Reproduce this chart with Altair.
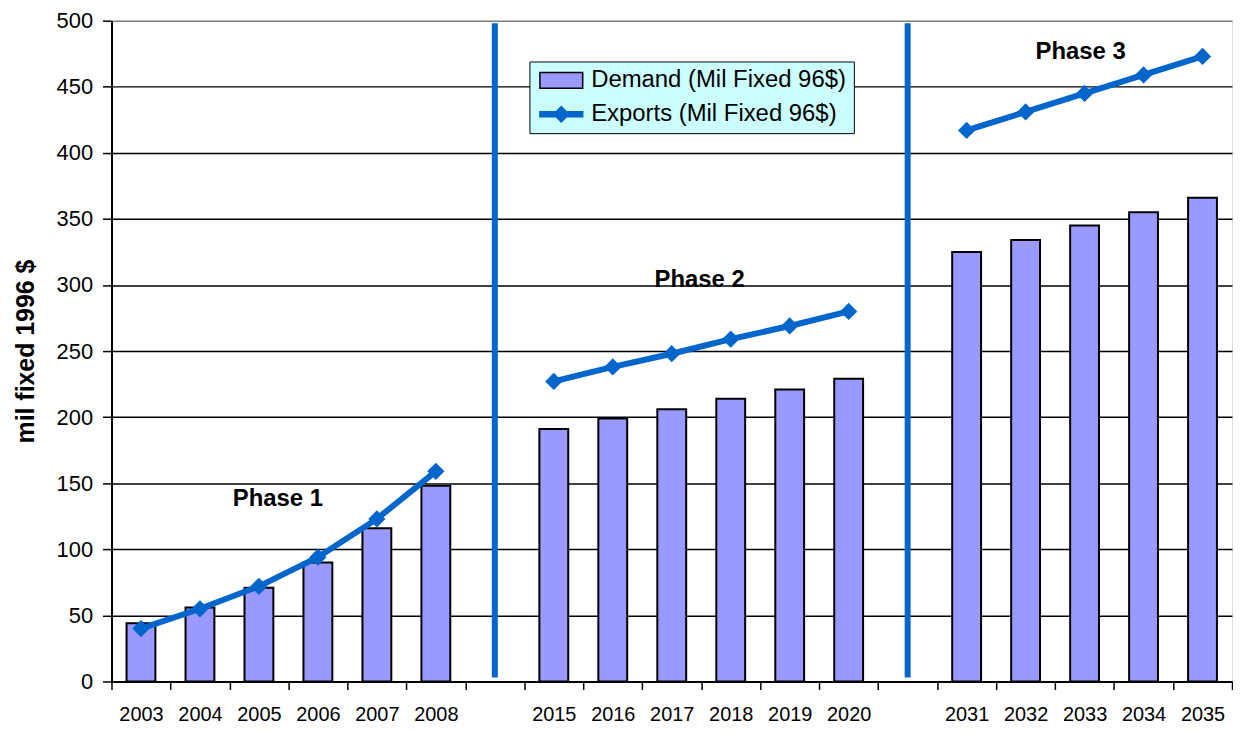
import altair as alt
import pandas as pd

FONT = "Liberation Sans"

# ---- data ----
years_p1 = ["2003", "2004", "2005", "2006", "2007", "2008"]
demand_p1 = [44, 56, 71, 90, 116, 148]
exports_p1 = [40, 55, 72, 94, 123, 159]

years_p2 = ["2015", "2016", "2017", "2018", "2019", "2020"]
demand_p2 = [191, 199, 206, 214, 221, 229]
exports_p2 = [227, 238, 248, 259, 269, 280]

years_p3 = ["2031", "2032", "2033", "2034", "2035"]
demand_p3 = [325, 334, 345, 355, 366]
exports_p3 = [417, 431, 445, 459, 473]

gap_slots = ["gap1", "gap2"]
x_domain = years_p1 + [gap_slots[0]] + years_p2 + [gap_slots[1]] + years_p3

phase_names = ["Phase 1", "Phase 2", "Phase 3"]
phase_label_x = ["2005", "2017", "2033"]
phase_label_y = [138, 304, 476]
phase_label_dx = [19, 28, -4]

sep_top = 498
sep_bottom = 3

series_names = ["Demand (Mil Fixed 96$)", "Exports (Mil Fixed 96$)"]

# ---- tables ----
rows = []
for ph, ys, ds, es in zip(phase_names,
                          [years_p1, years_p2, years_p3],
                          [demand_p1, demand_p2, demand_p3],
                          [exports_p1, exports_p2, exports_p3]):
    for y, d, e in zip(ys, ds, es):
        rows.append({"phase": ph, "year": y, "demand": d, "exports": e})
df = pd.DataFrame(rows)

sep_df = pd.DataFrame({"slot": gap_slots, "top": [sep_top] * 2, "bottom": [sep_bottom] * 2})
legend_df = pd.DataFrame({"series": series_names})

# ---- scales / axes ----
x_scale = alt.Scale(domain=x_domain, paddingInner=0, paddingOuter=0)
x_axis = alt.Axis(
    labelExpr="indexof(datum.label, 'gap') == 0 ? '' : datum.label",
    tickBand="extent", tickSize=8, tickColor="black", tickWidth=1.5,
    domainColor="black", domainWidth=2, labelFontSize=20, labelFont=FONT,
    labelColor="black", labelPadding=15, labelAngle=0, labelOverlap=False,
    grid=False, title=None,
)
y_scale = alt.Scale(domain=[0, 500], nice=False)
y_axis = alt.Axis(
    values=list(range(0, 501, 50)), grid=True,
    gridColor={"condition": {"test": "datum.value === 500", "value": "#808080"}, "value": "black"},
    gridWidth=1.5, domainColor="black", domainWidth=2, tickColor="black",
    tickSize=9, tickWidth=1.5, labelFontSize=22, labelFont=FONT,
    labelColor="black", labelPadding=10, labelOverlap=False,
    title="mil fixed 1996 $", titleFontSize=25, titleFont=FONT,
    titleFontWeight="bold", titleColor="black", titlePadding=18,
)

X = alt.X("year:N", scale=x_scale, axis=x_axis, title=None)

bars = alt.Chart(df).mark_bar(size=29, color="#9999FF", stroke="black", strokeWidth=2).encode(
    x=X,
    y=alt.Y("demand:Q", scale=y_scale, axis=y_axis),
)

lines = alt.Chart(df).mark_line(color="#0066CC", strokeWidth=6).encode(
    x=alt.X("year:N"), y=alt.Y("exports:Q"), detail="phase:N"
)

points = alt.Chart(df).mark_point(shape="diamond", filled=True, size=300, color="#0066CC", opacity=1).encode(
    x=alt.X("year:N"), y=alt.Y("exports:Q")
)

seps = alt.Chart(sep_df).mark_rule(color="#0066CC", strokeWidth=6).encode(
    x=alt.X("slot:N"), y=alt.Y("top:Q"), y2="bottom:Q"
)

texts = []
for name, px, py, dx in zip(phase_names, phase_label_x, phase_label_y, phase_label_dx):
    tdf = pd.DataFrame({"label": [name], "year": [px], "val": [py]})
    texts.append(
        alt.Chart(tdf).mark_text(fontSize=24, fontWeight="bold", font=FONT, color="black", dx=dx).encode(
            x=alt.X("year:N"), y=alt.Y("val:Q"), text="label:N"
        )
    )

rect_path = "M-1,-0.94L4.06,-0.94L4.06,0.94L-1,0.94Z"
line_path = "M-1,-0.3L4.06,-0.3L4.06,0.3L-1,0.3Z M1.53,-0.9L2.43,0L1.53,0.9L0.63,0Z"

leg = alt.Legend(
    title=None, orient="none", legendX=420, legendY=41,
    fillColor="#CCFFFF", strokeColor="black", padding=7, rowPadding=10,
    labelFontSize=24, labelFont=FONT, labelColor="black", labelOffset=31,
    labelLimit=500,
    symbolSize=289, symbolStrokeWidth=1.5, symbolOpacity=1,
)

legend_layer = alt.Chart(legend_df).mark_point(filled=True, opacity=0).encode(
    fill=alt.Fill("series:N", scale=alt.Scale(domain=series_names, range=["#9999FF", "#0066CC"]), legend=leg),
    stroke=alt.Stroke("series:N", scale=alt.Scale(domain=series_names, range=["black", "#0066CC"]), legend=leg),
    shape=alt.Shape("series:N", scale=alt.Scale(domain=series_names, range=[rect_path, line_path]), legend=leg),
)

chart = alt.layer(bars, seps, lines, points, *texts, legend_layer).properties(
    width=1126, height=664,
    padding={"left": 5, "top": 0, "right": 0, "bottom": 0},
).configure_view(
    stroke="#808080", strokeWidth=1
).configure(font=FONT)

chart.save("out.html", embed_options={"renderer": "svg", "actions": False})
